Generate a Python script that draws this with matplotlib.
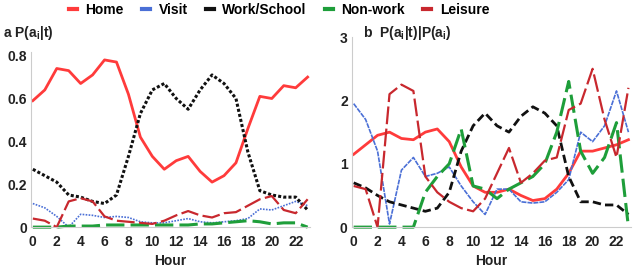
import numpy as np
import matplotlib.pyplot as plt

hours = np.arange(24)

# panel a: P(a_i | t)
home_a = [0.59, 0.64, 0.74, 0.73, 0.67, 0.71, 0.78, 0.77, 0.62, 0.42, 0.33, 0.27,
          0.31, 0.33, 0.26, 0.21, 0.24, 0.30, 0.46, 0.61, 0.60, 0.66, 0.65, 0.70]
visit_a = [0.11, 0.09, 0.05, 0.0, 0.06, 0.055, 0.045, 0.05, 0.045, 0.025, 0.02, 0.02,
           0.03, 0.04, 0.025, 0.02, 0.025, 0.03, 0.04, 0.085, 0.08, 0.10, 0.12, 0.10]
work_a = [0.27, 0.24, 0.21, 0.15, 0.14, 0.12, 0.11, 0.15, 0.33, 0.53, 0.64, 0.67,
          0.60, 0.55, 0.64, 0.71, 0.67, 0.60, 0.35, 0.17, 0.15, 0.14, 0.14, 0.08]
nonwork_a = [0.0, 0.0, 0.0, 0.005, 0.005, 0.005, 0.01, 0.01, 0.01, 0.01, 0.01, 0.01,
             0.01, 0.01, 0.015, 0.015, 0.02, 0.025, 0.03, 0.025, 0.015, 0.02, 0.02, 0.0]
leisure_a = [0.04, 0.03, 0.0, 0.12, 0.135, 0.12, 0.05, 0.03, 0.025, 0.02, 0.015, 0.03,
             0.055, 0.075, 0.055, 0.045, 0.065, 0.07, 0.10, 0.13, 0.145, 0.08, 0.065, 0.13]

# panel b: P(a_i | t) / P(a_i)
home_b = [1.15, 1.3, 1.45, 1.5, 1.4, 1.38, 1.5, 1.55, 1.35, 0.95, 0.65, 0.55,
          0.55, 0.6, 0.5, 0.42, 0.45, 0.6, 0.85, 1.2, 1.2, 1.25, 1.3, 1.38]
visit_b = [1.95, 1.7, 1.2, 0.05, 0.9, 1.1, 0.8, 0.85, 0.95, 0.65, 0.4, 0.2,
           0.6, 0.6, 0.4, 0.38, 0.4, 0.55, 0.75, 1.5, 1.35, 1.6, 2.15, 1.5]
work_b = [0.7, 0.62, 0.5, 0.4, 0.35, 0.3, 0.25, 0.3, 0.55, 1.2, 1.6, 1.8,
          1.6, 1.5, 1.75, 1.9, 1.8, 1.6, 0.8, 0.4, 0.4, 0.35, 0.35, 0.2]
nonwork_b = [0.0, 0.0, 0.0, 0.0, 0.0, 0.0, 0.55, 0.8, 1.0, 1.55, 0.65, 0.6,
             0.45, 0.6, 0.7, 0.8, 1.0, 1.5, 2.3, 1.2, 0.85, 1.1, 1.65, 0.0]
leisure_b = [0.65, 0.6, 0.0, 2.1, 2.25, 2.15, 0.8, 0.55, 0.4, 0.3, 0.25, 0.45,
             0.85, 1.25, 0.7, 0.85, 1.05, 1.1, 1.85, 1.95, 2.5, 1.7, 1.1, 2.2]

labels = ["Home", "Visit", "Work/School", "Non-work", "Leisure"]
colors = ["#ff3b3b", "#4a6fd6", "#111111", "#1e9e3a", "#c8282e"]

plt.rcParams['font.family'] = ['Liberation Sans', 'DejaVu Sans']

fig = plt.figure(figsize=(6.34, 2.73), dpi=100)
ax1 = fig.add_axes([0.049, 0.168, 0.44, 0.64])
ax2 = fig.add_axes([0.555, 0.168, 0.44, 0.696])


def style_axis(ax, ylim, yticks):
    ax.set_xlim(-0.15, 23.2)
    ax.set_ylim(*ylim)
    ax.set_xticks(range(0, 24, 2))
    ax.set_yticks(yticks)
    for s in ["top", "right"]:
        ax.spines[s].set_visible(False)
    for s in ["left", "bottom"]:
        ax.spines[s].set_color("#cccccc")
    ax.tick_params(length=0, labelsize=10, pad=3)
    ax.tick_params(axis="x", pad=6)
    for t in ax.get_xticklabels() + ax.get_yticklabels():
        t.set_fontweight("bold")
        t.set_color("#222222")
    ax.set_xlabel("Hour", fontsize=10, fontweight="bold", color="#222222", labelpad=3)


# panel a
ax1.plot(hours, home_a, color=colors[0], lw=2.0, clip_on=False)
ax1.plot(hours, visit_a, color=colors[1], lw=1.2, ls=(0, (1, 0.8)), clip_on=False)
ax1.plot(hours, work_a, color=colors[2], lw=2.2, ls=(0, (1, 0.7)), clip_on=False)
ax1.plot(hours, nonwork_a, color=colors[3], lw=2.2, ls=(0, (6, 2)), clip_on=False)
ax1.plot(hours, leisure_a, color=colors[4], lw=1.6, ls=(0, (8, 2)), clip_on=False)
style_axis(ax1, (0, 0.815), [0, 0.2, 0.4, 0.6, 0.8])
ax1.set_yticklabels(["0", "0.2", "0.4", "0.6", "0.8"], fontweight="bold")

# panel b
ax2.plot(hours, home_b, color=colors[0], lw=2.0, clip_on=False)
ax2.plot(hours, visit_b, color=colors[1], lw=1.2, ls=(0, (3, 0.6)), clip_on=False)
ax2.plot(hours, work_b, color=colors[2], lw=2.0, ls=(0, (3, 1.5)), clip_on=False)
ax2.plot(hours, nonwork_b, color=colors[3], lw=2.2, ls=(0, (6, 2)), clip_on=False)
ax2.plot(hours, leisure_b, color=colors[4], lw=1.6, ls=(0, (8, 2)), clip_on=False)
style_axis(ax2, (0, 3), [0, 1, 2, 3])

fig.text(0.004, 0.845, "a P(a$_\\mathregular{i}$|t)", fontsize=10, fontweight="bold",
         color="#222222", va="bottom")
fig.text(0.572, 0.845, "b  P(a$_\\mathregular{i}$|t)|P(a$_\\mathregular{i}$)", fontsize=10,
         fontweight="bold", color="#222222", va="bottom")

handles = [plt.Line2D([], [], color=c, lw=3) for c in colors]
fig.legend(handles, labels, loc="upper center", bbox_to_anchor=(0.44, 1.035), ncol=5,
           frameon=False, handlelength=0.6, handletextpad=0.6, columnspacing=1.3,
           prop={"weight": "bold", "size": 10})

fig.savefig("out.png", dpi=100)
